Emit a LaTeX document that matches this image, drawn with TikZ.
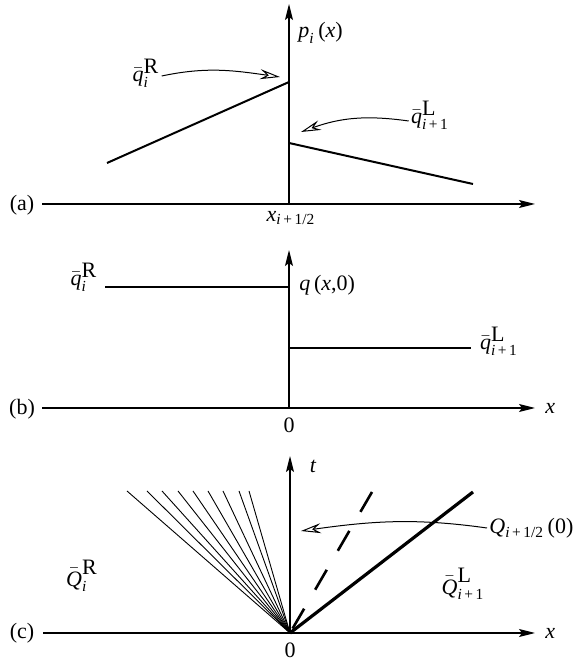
\documentclass[tikz,border=0pt]{standalone}
\usepackage{amsmath}
\usepackage{fontspec}
\setmainfont{Liberation Serif}
\usetikzlibrary{arrows.meta,positioning}
\newcommand{\vv}[1]{\text{\itshape #1}}
\newcommand{\up}[1]{\text{\fontsize{11}{13}\selectfont #1}}

\begin{document}
\begin{tikzpicture}[x=0.5pt,y=0.5pt,
  axis/.style={line width=0.65pt,-{Stealth[length=8pt,width=4pt,inset=1.5pt]}},
  profile/.style={line width=1pt},
  pointer/.style={line width=0.5pt,-{Stealth[open,length=10pt,width=5pt,inset=3.5pt]}},
  fanline/.style={line width=0.45pt},
  lbl/.style={inner sep=1pt,font=\fontsize{11}{13}\selectfont}
]
  \useasboundingbox (0,0) rectangle (573,664);

  % (a) reconstructed profile at the interface
  \begin{scope}[shift={(289,460)}]
    \coordinate (oa) at (0,0);
    \coordinate (aL) at (-247,0);
    \coordinate (aR) at (246,0);
    \coordinate (aT) at (0,200);
    \draw[axis] (aL) -- (aR);
    \draw[axis] (oa) -- (aT);
    \node[lbl] (la) at (-267,-1) {(a)};
    \node[lbl] (xa) at (2,-14) {$\vv{x}_{\text{\itshape i\,\upshape+\,1/2}}$};
    \node[lbl,anchor=west] (pa) at (7,171) {$\vv{p}_{\vv{i}}\,\text{(\itshape x\upshape)}$};
    \coordinate (a1) at (-182,41);
    \coordinate (a2) at (0,122);
    \coordinate (a3) at (0,61);
    \coordinate (a4) at (184,20);
    \draw[profile] (a1) -- (a2);
    \draw[profile] (a3) -- (a4);
    \node[lbl] (qR) at (-143,131) {${\bar{\vv{q}}_{\vv{i}}}^{\up{R}}$};
    \coordinate (qRtip) at (-9,127);
    \draw[pointer] (qR.east |- -122,128) to[out=12,in=172] (qRtip);
    \node[lbl] (qL) at (141,89) {$\bar{\vv{q}}_{\text{\itshape i\,\upshape+\,1}}^{\up{L}}$};
    \coordinate (qLtip) at (12,72);
    \draw[pointer] (qL.west |- 113,83) to[out=172,in=20] (qLtip);
  \end{scope}

  % (b) initial data of the Riemann problem
  \begin{scope}[shift={(289,256)}]
    \coordinate (ob) at (0,0);
    \coordinate (bL) at (-247,0);
    \coordinate (bR) at (246,0);
    \coordinate (bT) at (0,158);
    \draw[axis] (bL) -- (bR);
    \draw[axis] (ob) -- (bT);
    \node[lbl] (lb) at (-267,-1) {(b)};
    \node[lbl] (zb) at (0,-17) {0};
    \node[lbl,anchor=west] (xb) at (254,0) {\itshape x};
    \node[lbl,anchor=west] (qb) at (8,123) {$\vv{q}\,\text{(\itshape x\upshape,0)}$};
    \coordinate (b1) at (-184,121);
    \coordinate (b2) at (0,121);
    \coordinate (b3) at (0,60);
    \coordinate (b4) at (182,60);
    \draw[profile] (b1) -- (b2);
    \draw[profile] (b3) -- (b4);
    \node[lbl] (bqR) at (-205,131) {${\bar{\vv{q}}_{\vv{i}}}^{\up{R}}$};
    \node[lbl] (bqL) at (210,67) {$\bar{\vv{q}}_{\text{\itshape i\,\upshape+\,1}}^{\up{L}}$};
  \end{scope}

  % (c) wave structure in the x-t plane
  \begin{scope}[shift={(290,31)}]
    \coordinate (oc) at (0,0);
    \coordinate (cL) at (-247,0);
    \coordinate (cR) at (245,0);
    \coordinate (cT) at (0,177);
    \draw[axis] (cL) -- (cR);
    \draw[axis] (oc) -- (cT);
    \node[lbl] (lc) at (-268,0) {(c)};
    \node[lbl] (zc) at (0,-17) {0};
    \node[lbl,anchor=west] (xc) at (253,0) {\itshape x};
    \node[lbl] (tc) at (23,167) {\itshape t};
    \foreach \xe [count=\k] in {-163,-143,-128,-112,-97,-82,-67,-51,-41} {
      \coordinate (fan\k) at (\xe,142);
      \draw[fanline] (oc) -- (fan\k);
    }
    \coordinate (cd) at (82,141);
    \coordinate (cs) at (183,141);
    \draw[line width=1.3pt,dash pattern=on 11.5pt off 11pt] (cd) -- (oc);
    \draw[line width=1.6pt] (oc) -- (cs);
    \node[lbl,anchor=west] (Qh) at (197,105) {$\vv{Q}_{\text{\itshape i\,\upshape+\,1/2}}\,\text{(0)}$};
    \coordinate (Qtip) at (11,102);
    \draw[pointer] (Qh.west) to[out=172,in=8] (Qtip);
    \node[lbl] (cQL) at (173,49) {$\bar{\vv{Q}}_{\text{\itshape i\,\upshape+\,1}}^{\up{L}}$};
    \node[lbl] (cQR) at (-208,57) {${\bar{\vv{Q}}_{\vv{i}}}^{\up{R}}$};
  \end{scope}
\end{tikzpicture}
\end{document}
